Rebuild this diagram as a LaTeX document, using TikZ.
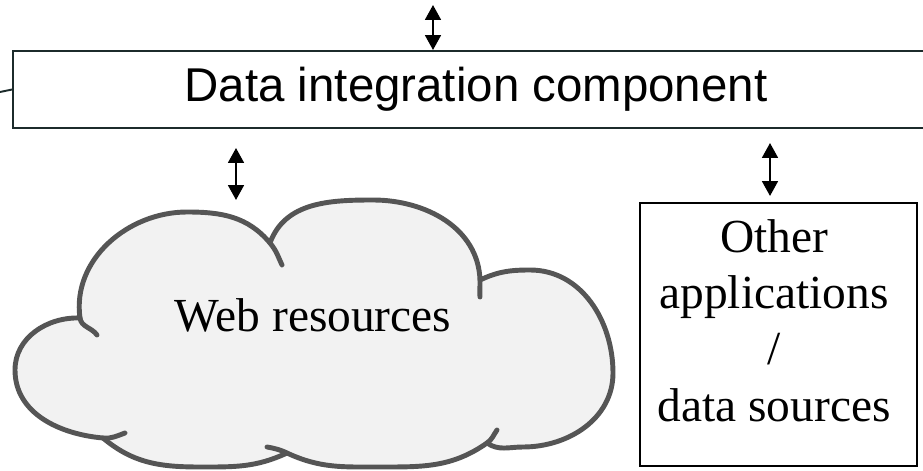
\documentclass[tikz,border=0pt]{standalone}
\usepackage{fontspec}
\setmainfont{Liberation Serif}
\setsansfont{Liberation Sans}
\usetikzlibrary{arrows.meta, calc}
\definecolor{cloudfill}{HTML}{F2F2F2}
\definecolor{cloudline}{HTML}{555555}
\definecolor{boxline}{HTML}{1C2B2B}

\begin{document}
\begin{tikzpicture}[x=0.02cm, y=0.02cm,
    biarrow/.style={{Triangle[width=9pt,length=8.5pt]}-{Triangle[width=9pt,length=8.5pt]}, line width=1.3pt},
    cloudpen/.style={draw=cloudline, line width=2.8pt, line cap=round, line join=round},
    label/.style={font=\fontsize{27}{32}\selectfont, align=center, inner sep=0pt}]
        \clip (0,0) rectangle (923,470);
        % integration layer
        \node[draw=boxline, line width=1.1pt, minimum width=18.52cm, minimum height=1.54cm,
              font=\sffamily\fontsize{27}{32}\selectfont] (dic) at (476,380.5) {Data integration component};
        \coordinate (lft) at (0,378);
        \draw[boxline, line width=1.1pt] (lft) -- (dic.west);
        % cloud lobes
        \path[cloudpen, fill=cloudfill] (80,152)
            to[out=98,in=180] (187,258) to[out=0,in=130] (270,227)
            to[out=70,in=180] (373,270) to[out=0,in=92] (480,190)
            to[out=25,in=180] (530,200) to[out=0,in=90] (613,97)
            to[out=-90,in=0] (523,23) to[out=180,in=-35] (487,27)
            to[out=-145,in=0] (380,3) to[out=180,in=-25] (287,17)
            to[out=-155,in=0] (200,3) to[out=180,in=-40] (103,32)
            to[out=175,in=-90] (15,100) to[out=90,in=178] cycle;
        \draw[cloudpen] (80,152) to[out=-82,in=125] (97,135);
        \draw[cloudpen] (270,227) to[out=-50,in=115] (282,205);
        \draw[cloudpen] (480,190) to[out=-88,in=95] (480,173);
        \draw[cloudpen] (487,27) to[out=35,in=-125] (497,40);
        \draw[cloudpen] (287,17) to[out=155,in=-10] (267,23);
        \draw[cloudpen] (103,32) to[out=-5,in=-160] (125,37);
        \node[label, anchor=base] (web) at (313,138) {Web resources};
        % other sources
        \node[draw, line width=0.9pt, minimum width=5.54cm, minimum height=5.26cm] (other) at (778.5,135.5) {};
        \node[label] (othertext) at (774,149.5) {Other\\applications\\/\\data sources};
        % links
        \coordinate (t1) at (433,465); \coordinate (t2) at (433,420);
        \coordinate (w1) at (236,322); \coordinate (w2) at (236,270);
        \coordinate (o1) at (770,327); \coordinate (o2) at (770,274);
        \draw[biarrow] (t1) -- (t2);
        \draw[biarrow] (w1) -- (w2);
        \draw[biarrow] (o1) -- (o2);
\end{tikzpicture}
\end{document}
